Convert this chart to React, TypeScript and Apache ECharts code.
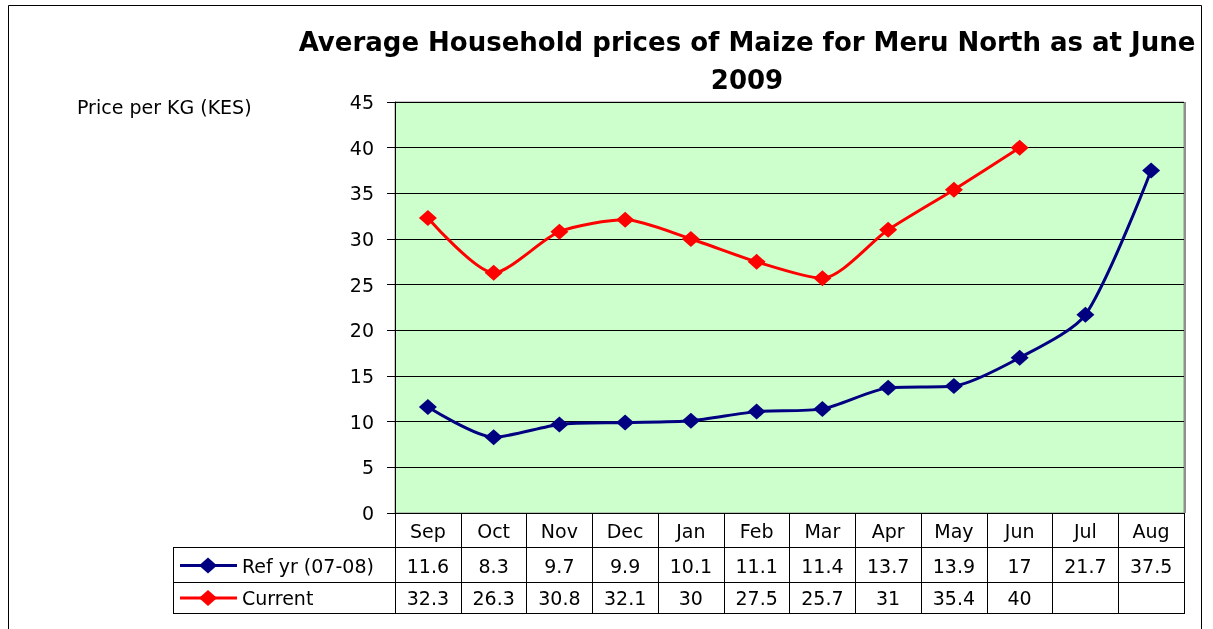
import { useEffect, useRef } from 'react';
import * as echarts from 'echarts';

const categories = ['Sep', 'Oct', 'Nov', 'Dec', 'Jan', 'Feb', 'Mar', 'Apr', 'May', 'Jun', 'Jul', 'Aug'];
const refName = 'Ref yr (07-08)';
const refValues: (number | null)[] = [11.6, 8.3, 9.7, 9.9, 10.1, 11.1, 11.4, 13.7, 13.9, 17, 21.7, 37.5];
const curName = 'Current';
const curValues: (number | null)[] = [32.3, 26.3, 30.8, 32.1, 30, 27.5, 25.7, 31, 35.4, 40, null, null];
const yMin = 0;
const yMax = 45;
const yInterval = 5;
const titleText = 'Average Household prices of Maize for Meru North as at June\n2009';
const yAxisTitle = 'Price per KG (KES)';

const W = 1213;
const H = 629;
const plotL = 395;
const plotR = 1184;
const plotT = 102;
const plotB = 513;
const headB = 547;
const row1B = 582;
const row2B = 613;
const tableL = 173;
const FONT = '"DejaVu Sans", Verdana, sans-serif';
const FS = 19;
const REF_COLOR = '#000080';
const CUR_COLOR = '#FF0000';

export default function App() {
  const ref = useRef<HTMLDivElement>(null);
  useEffect(() => {
    if (!ref.current) return;
    const chart = echarts.init(ref.current, undefined, { renderer: 'svg' });
    const colW = (plotR - plotL) / categories.length;
    const graphic: any[] = [];
    // outer frame
    graphic.push({ type: 'rect', shape: { x: 8.5, y: 5.5, width: 1193, height: 660 }, style: { fill: 'none', stroke: '#000', lineWidth: 1 }, z: 0 });
    // title
    graphic.push({ type: 'text', x: 747, y: 23, style: { text: titleText, textAlign: 'center', fontFamily: '"DejaVu Sans", sans-serif', fontWeight: 'bold', fontSize: 26, lineHeight: 38, fill: '#000' } });
    // y axis title
    graphic.push({ type: 'text', x: 77, y: 107, style: { text: yAxisTitle, textVerticalAlign: 'middle', fontFamily: FONT, fontSize: 19, fill: '#000' } });
    // plot right shadow
    graphic.push({ type: 'rect', shape: { x: plotR, y: plotT, width: 2, height: plotB - plotT }, style: { fill: '#909090' }, z: 1 });
    // table lines
    const hl = (y: number) => ({ type: 'line', shape: { x1: tableL, y1: y + 0.5, x2: plotR, y2: y + 0.5 }, style: { stroke: '#000', lineWidth: 1 }, z: 5 });
    graphic.push(hl(headB), hl(row1B), hl(row2B));
    graphic.push({ type: 'line', shape: { x1: tableL + 0.5, y1: headB, x2: tableL + 0.5, y2: row2B + 1 }, style: { stroke: '#000', lineWidth: 1 }, z: 5 });
    // table values
    const rows: { name: string; values: (number | null)[]; color: string; yc: number }[] = [
      { name: refName, values: refValues, color: REF_COLOR, yc: (headB + row1B) / 2 + 1 },
      { name: curName, values: curValues, color: CUR_COLOR, yc: (row1B + row2B) / 2 + 0.5 },
    ];
    rows.forEach((r) => {
      r.values.forEach((v, i) => {
        if (v === null) return;
        graphic.push({ type: 'text', x: plotL + colW * (i + 0.5), y: r.yc, style: { text: String(v), textAlign: 'center', textVerticalAlign: 'middle', fontFamily: FONT, fontSize: FS, fill: '#000' } });
      });
      graphic.push({ type: 'line', shape: { x1: 180, y1: r.yc, x2: 237, y2: r.yc }, style: { stroke: r.color, lineWidth: 3 } });
      graphic.push({ type: 'polygon', shape: { points: [[208, r.yc - 8], [217, r.yc], [208, r.yc + 8], [199, r.yc]] }, style: { fill: r.color } });
      graphic.push({ type: 'text', x: 242, y: r.yc, style: { text: r.name, textVerticalAlign: 'middle', fontFamily: FONT, fontSize: FS, fill: '#000' } });
    });

    chart.setOption({
      animation: false,
      grid: {
        left: plotL, right: W - plotR, top: plotT, bottom: H - plotB,
        show: true, backgroundColor: '#CCFFCC', borderColor: '#909090', borderWidth: 1,
      },
      xAxis: {
        type: 'category', data: categories, boundaryGap: true,
        axisLine: { show: true, lineStyle: { color: '#000', width: 1 } },
        axisTick: { show: true, interval: 0, length: row2B - plotB + 1, lineStyle: { color: '#000', width: 1 } },
        axisLabel: { interval: 0, margin: 8, fontFamily: FONT, fontSize: FS, color: '#000' },
        splitLine: { show: false },
      },
      yAxis: {
        type: 'value', min: yMin, max: yMax, interval: yInterval,
        axisLine: { show: true, lineStyle: { color: '#000', width: 1 } },
        axisTick: { show: true, length: 8, lineStyle: { color: '#000' } },
        axisLabel: { margin: 21, fontFamily: FONT, fontSize: FS, color: '#000' },
        splitLine: { show: true, lineStyle: { color: '#000', width: 1 } },
      },
      series: [
        {
          name: refName, type: 'line', data: refValues, smooth: 0.25,
          symbol: 'diamond', symbolSize: [18, 16],
          lineStyle: { color: REF_COLOR, width: 3 }, itemStyle: { color: REF_COLOR },
          z: 3,
        },
        {
          name: curName, type: 'line', data: curValues, smooth: 0.25,
          symbol: 'diamond', symbolSize: [18, 16],
          lineStyle: { color: CUR_COLOR, width: 3 }, itemStyle: { color: CUR_COLOR },
          z: 3,
        },
      ],
      graphic,
    });
    return () => chart.dispose();
  }, []);
  return <div ref={ref} style={{ position: 'fixed', left: 0, top: 0, width: W, height: H }} />;
}
